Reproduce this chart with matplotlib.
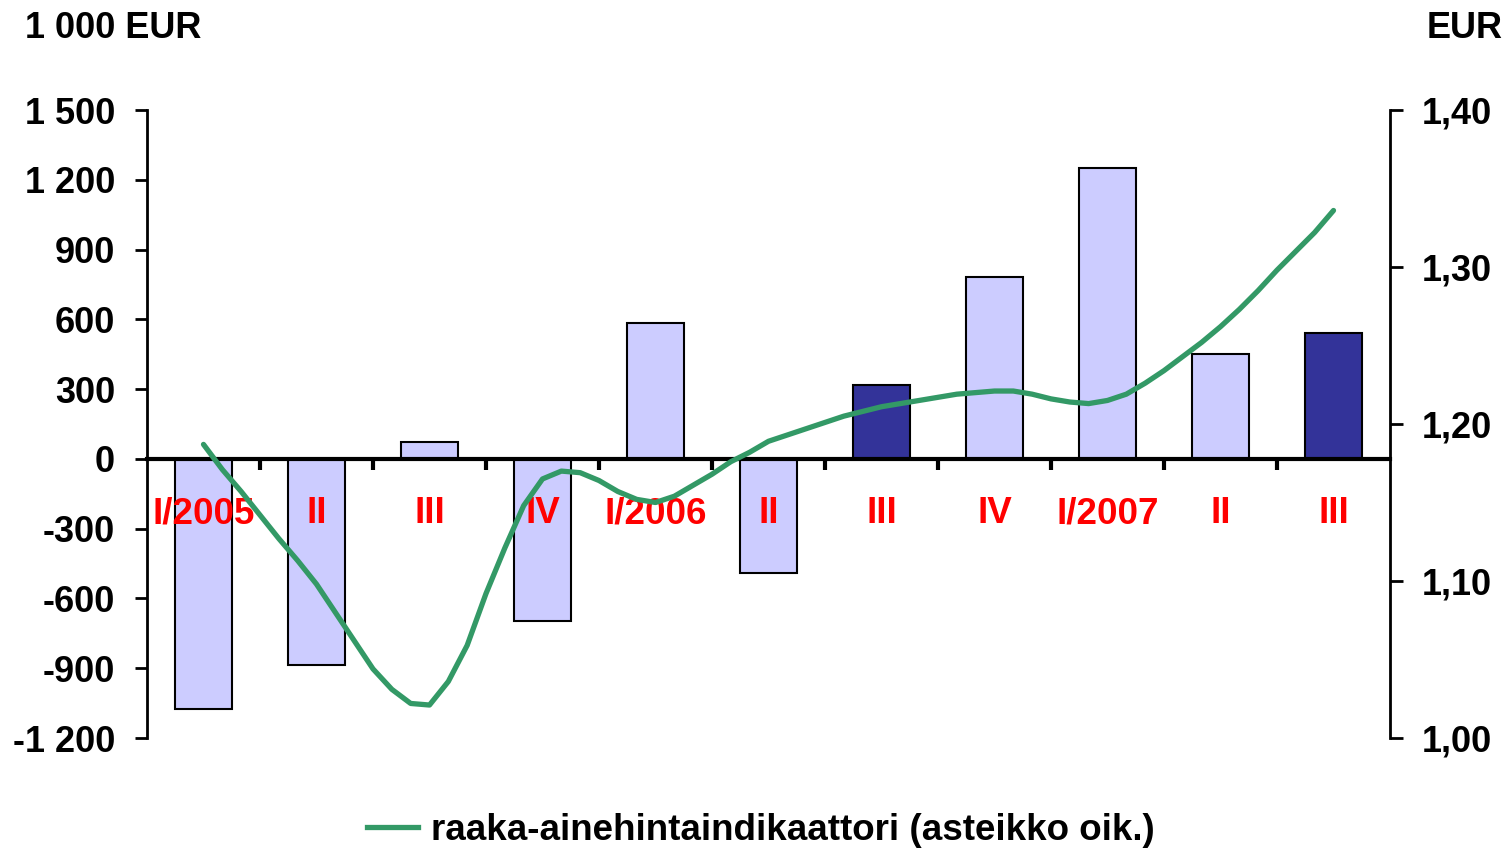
import matplotlib.pyplot as plt
from matplotlib.ticker import FuncFormatter
from matplotlib.lines import Line2D

plt.rcParams['font.family'] = ['Liberation Sans', 'DejaVu Sans']
plt.rcParams['font.weight'] = 'bold'

# quarterly bars (1 000 EUR)
quarters = ['I/2005', 'II', 'III', 'IV', 'I/2006', 'II', 'III', 'IV', 'I/2007', 'II', 'III']
bar_values = [-1075, -886, 73, -696, 585, -490, 318, 782, 1251, 451, 542]
bar_dark = [False, False, False, False, False, False, True, False, False, False, True]

# raw material price indicator (EUR, right scale), read twice a month, Jan 2005 .. Sep 2007
price_index = [1.187, 1.171, 1.157, 1.142, 1.127, 1.113, 1.098, 1.080, 1.062, 1.044,
               1.031, 1.022, 1.021, 1.036, 1.059, 1.092, 1.121, 1.148, 1.165, 1.170,
               1.169, 1.164, 1.157, 1.152, 1.150, 1.154, 1.161, 1.168, 1.176, 1.182,
               1.189, 1.193, 1.197, 1.201, 1.205, 1.208, 1.211, 1.213, 1.215, 1.217,
               1.219, 1.220, 1.221, 1.221, 1.219, 1.216, 1.214, 1.213, 1.215, 1.219,
               1.226, 1.234, 1.243, 1.252, 1.262, 1.273, 1.285, 1.298, 1.310, 1.322,
               1.336]

light = '#CCCCFF'
dark = '#333399'
green = '#339966'

fig = plt.figure(figsize=(15.1, 8.5), dpi=100)
ax = fig.add_axes([147 / 1510, 1 - 738 / 850, (1390 - 147) / 1510, (738 - 110) / 850])

x = range(len(quarters))
colors = [dark if d else light for d in bar_dark]
ax.bar(x, bar_values, width=0.5, color=colors, edgecolor='black', linewidth=1.5, zorder=2)

ax.set_xlim(-0.5, len(quarters) - 0.5)
ax.set_ylim(-1200, 1500)
ax.set_yticks(range(-1200, 1501, 300))
ax.yaxis.set_major_formatter(FuncFormatter(lambda v, p: f'{int(v):,}'.replace(',', ' ')))
ax.tick_params(axis='y', direction='out', length=9, width=2, labelsize=26, pad=14)

ax.spines['top'].set_visible(False)
ax.spines['right'].set_visible(False)
ax.spines['left'].set_linewidth(2)
ax.spines['bottom'].set_position(('data', 0))
ax.spines['bottom'].set_linewidth(3)
ax.spines['bottom'].set_zorder(3)
ax.set_xticks([i + 0.5 for i in range(len(quarters) - 1)])
ax.tick_params(axis='x', direction='out', length=8, width=3, labelbottom=False)

for i, q in enumerate(quarters):
    ax.text(i, -236, q, color='red', fontsize=26.5, fontweight='bold',
            ha='center', va='center', zorder=4)

ax2 = ax.twinx()
months = [k / 6 for k in range(len(price_index))]
ax2.plot(months, price_index, color=green, linewidth=3.8, solid_capstyle='round',
         solid_joinstyle='round')
ax2.set_ylim(1.0, 1.4)
ax2.set_yticks([1.0, 1.1, 1.2, 1.3, 1.4])
ax2.yaxis.set_major_formatter(FuncFormatter(lambda v, p: f'{v:.2f}'.replace('.', ',')))
ax2.tick_params(axis='y', direction='out', length=9, width=2, labelsize=26, pad=14)
for s in ['top', 'left', 'bottom']:
    ax2.spines[s].set_visible(False)
ax2.spines['right'].set_linewidth(2)

fig.text(25 / 1510, 1 - 29 / 850, '1 000 EUR', fontsize=26, fontweight='bold',
         ha='left', va='center')
fig.text(1503 / 1510, 1 - 29 / 850, 'EUR', fontsize=26, fontweight='bold',
         ha='right', va='center')

handle = Line2D([], [], color=green, linewidth=3.8)
fig.legend([handle], ['raaka-ainehintaindikaattori (asteikko oik.)'], loc='center',
           bbox_to_anchor=(761 / 1510, 1 - 830 / 850), frameon=False,
           prop={'size': 26.5, 'weight': 'bold'}, handlelength=1.4, handletextpad=0.35)

fig.savefig('out.png', dpi=100)
